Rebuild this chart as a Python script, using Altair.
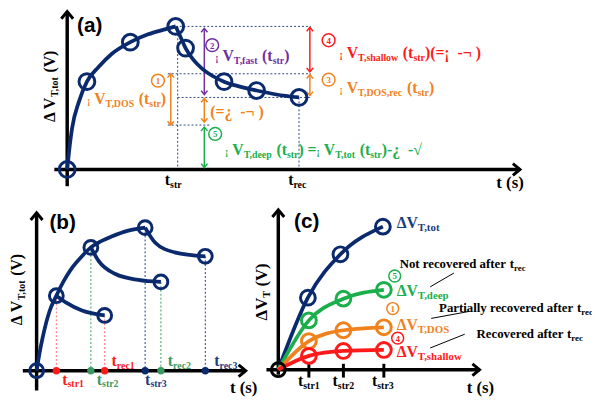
import altair as alt
import pandas as pd

NAVY = "#0B2A6E"; ORANGE = "#F0821E"; GREEN = "#1AAF4B"; RED = "#FF1A1A"
PURPLE = "#7030A0"; BLACK = "#000000"; DOT = "#2B4583"
B_RED = "#FF6B6B"; B_GREEN = "#3A9A62"; B_NAVY = "#1E3C84"; C_NAVY = "#1C3C7C"

# ---------------- panel (a) ----------------
a_rise_x = [68, 70, 73, 80, 88, 100, 113, 132, 150, 167, 178]
a_rise_y = [169, 150, 127, 100, 80, 65, 52, 40, 32, 27, 24]
a_dec_x = [178, 183, 188, 196, 205, 215, 227, 243, 260, 280, 303]
a_dec_y = [24, 35, 46, 58, 67, 74, 80, 85, 89, 93, 96]
a_circ_x = [68, 88, 132, 178, 188, 227, 260, 303]
a_circ_y = [169, 80, 40, 24, 46, 80, 89, 96]
a_dot = [  # x, y, x2, y2
    (178, 24, 315, 24), (170, 72, 315, 72), (180, 96, 315, 96), (170, 124, 212, 124),
    (180, 24, 180, 169), (303, 96, 303, 169)]
a_arrows = [  # x, top, bottom, colour
    (173, 72, 124, ORANGE), (207, 26, 93, PURPLE), (207, 97, 121, ORANGE),
    (207, 126, 167, GREEN), (314, 25, 70, RED), (314, 73, 94, ORANGE)]
a_nums = [(160, 79, "1", ORANGE), (215, 43, "2", PURPLE), (333, 38, "4", RED),
          (333, 78, "3", ORANGE), (218, 133, "5", GREEN)]

# ---------------- panel (b) ----------------
b_rise_x = [37, 40, 43, 50, 57, 64, 72, 82, 92, 102, 113, 130, 147]
b_rise_y = [373, 355, 340, 313, 297, 283, 270, 258, 248, 242, 237, 231, 228]
b_br1_x = [57, 67, 83, 106]; b_br1_y = [297, 304, 312, 317]
b_br2_x = [92, 100, 117, 140, 163]; b_br2_y = [248, 262, 275, 281, 283]
b_br3_x = [147, 157, 177, 208]; b_br3_y = [228, 243, 253, 257]
b_circ_x = [37, 57, 92, 147, 106, 163, 208]
b_circ_y = [373, 297, 248, 228, 317, 283, 257]
b_drop_x = [57, 92, 106, 147, 163, 208]
b_drop_top = [297, 248, 317, 228, 283, 257]
b_drop_col = [B_RED, B_GREEN, B_RED, B_NAVY, B_GREEN, B_NAVY]
b_dot_col = [RED, B_GREEN, RED, NAVY, B_GREEN, NAVY]

# ---------------- panel (c) ----------------
c_tot_x = [282, 312, 345, 388]; c_tot_y = [372, 299, 255, 227]
c_x = [282, 313, 348, 389]
c_deep_y = [372, 322, 300, 291]
c_dos_y = [372, 343, 332, 329]
c_sh_y = [372, 358, 353, 352]
c_ticks = [313, 348, 389]
c_nums = [(400, 277, "5", GREEN), (398, 310, "1", ORANGE), (403, 340, "4", RED)]
c_leaders = [(460, 274, 436, 288), (475, 313, 437, 320), (471, 336, 436, 350)]

# ---------------- axes ----------------
axes = [  # x, y, x2, y2
    (68, 186, 68, 9), (55, 169, 527, 169),
    (37, 393, 37, 213), (23, 373, 249, 373),
    (282, 377, 282, 210), (270, 372, 486, 372)]
up_heads = [(68, 9), (37, 213), (282, 210)]
right_heads = [(527, 169), (249, 373), (486, 372)]

# ---------------- text layout helper (Times-bold metrics) ----------------
W = {" ": 250, "(": 333, ")": 333, ",": 250, "-": 333, "=": 570, "¡": 333, "¿": 500,
     "¬": 570, "√": 549, "Δ": 612, "A": 722, "D": 722, "N": 722, "O": 778, "P": 611,
     "R": 722, "S": 556, "T": 667, "V": 722, "a": 500, "c": 444, "d": 556, "e": 444,
     "f": 333, "h": 556, "i": 278, "l": 278, "o": 500, "p": 556, "r": 444, "s": 389,
     "t": 333, "v": 500, "w": 722, "y": 500, "1": 500, "2": 500, "3": 500}


def tw(s, size):
    return sum(W.get(c, 500) for c in s) / 1000.0 * size


def rich(x0, y0, parts, color, M=16, S=10, G=10, dy=3, angle=0):
    rows, pos = [], 0.0
    for text, kind in parts:
        size = {"m": M, "s": S, "g": G}[kind]
        off = dy if kind == "s" else 0
        if text.strip():
            if angle == 0:
                rows.append(dict(x=x0 + pos, y=y0 + off, text=text, size=size, color=color, angle=0))
            else:
                rows.append(dict(x=x0 + off, y=y0 - pos, text=text, size=size, color=color, angle=270))
        pos += tw(text, size)
    return rows


def sub_label(x0, y0, main, sub, color, M=16, S=10, dy=3):
    return rich(x0, y0, [(main, "m"), (sub, "s")], color, M=M, S=S, dy=dy)


texts = []
# (a)
texts += rich(88, 103, [("¡", "g"), (" ", "m"), ("V", "m"), ("T,DOS", "s"), (" ", "m"), ("(t", "m"), ("str", "s"), (")", "m")], ORANGE)
texts += rich(218, 59, [("¡", "g"), (" ", "m"), ("V", "m"), ("T,fast", "s"), (" ", "m"), ("(t", "m"), ("str", "s"), (")", "m")], PURPLE)
texts += rich(344, 56, [("¡", "g"), (" ", "m"), ("V", "m"), ("T,shallow", "s"), (" ", "m"), ("(t", "m"), ("str", "s"), (")(=¡", "m"), ("  ", "m"), ("-¬", "m"), (" ", "m"), (")", "m")], RED)
texts += rich(344, 92, [("¡", "g"), (" ", "m"), ("V", "m"), ("T,DOS,rec", "s"), (" ", "m"), ("(t", "m"), ("str", "s"), (")", "m")], ORANGE)
texts += rich(213, 116, [("(=¿", "m"), ("  ", "m"), ("-¬", "m"), (" ", "m"), (")", "m")], ORANGE)
texts += rich(228, 154, [("¡", "g"), (" ", "m"), ("V", "m"), ("T,deep", "s"), (" ", "m"), ("(t", "m"), ("str", "s"), (")", "m"), (" ", "m"), ("=", "m"), ("¡", "g"), (" ", "m"), ("V", "m"), ("T,tot", "s"), (" ", "m"), ("(t", "m"), ("str", "s"), (")-¿", "m"), ("  ", "m"), ("-√", "m")], GREEN)
texts += rich(56, 121, [("Δ V", "m"), ("T,tot", "s"), (" ", "m"), ("(V)", "m")], BLACK, angle=270)
texts += sub_label(167, 185, "t", "str", BLACK)
texts += sub_label(292, 185, "t", "rec", BLACK)
texts += rich(503, 188, [("t (s)", "m")], BLACK, M=17)
# (b)
texts += rich(22, 327, [("Δ V", "m"), ("T,tot", "s"), (" ", "m"), ("(V)", "m")], BLACK, angle=270)
texts += sub_label(63, 387, "t", "str1", RED)
texts += sub_label(98, 387, "t", "str2", B_GREEN)
texts += sub_label(147, 387, "t", "str3", B_NAVY)
texts += sub_label(113, 368, "t", "rec1", RED)
texts += sub_label(170, 368, "t", "rec2", B_GREEN)
texts += sub_label(217, 368, "t", "rec3", B_NAVY)
texts += rich(233, 396, [("t (s)", "m")], BLACK, M=17)
# (c)
texts += rich(271, 322, [("ΔV", "m"), ("T", "s"), (" ", "m"), ("(V)", "m")], BLACK, M=17, S=11, angle=270)
texts += sub_label(402, 228, "ΔV", "T,tot", C_NAVY, S=11)
texts += sub_label(402, 297, "ΔV", "T,deep", GREEN, S=11)
texts += sub_label(402, 332, "ΔV", "T,DOS", ORANGE, S=11)
texts += sub_label(402, 359, "ΔV", "T,shallow", RED, S=11)
texts += rich(405, 269, [("Not recovered after", "m"), (" ", "m"), ("t", "m"), ("rec", "s")], BLACK, M=13, S=9, dy=2.5)
texts += rich(445, 314, [("Partially recovered after", "m"), (" ", "m"), ("t", "m"), ("rec", "s")], BLACK, M=13, S=9, dy=2.5)
texts += rich(483, 340, [("Recovered after", "m"), (" ", "m"), ("t", "m"), ("rec", "s")], BLACK, M=13, S=9, dy=2.5)
for tx, lab in zip([302, 337, 377], ["str1", "str2", "str3"]):
    texts += sub_label(tx, 389, "t", lab, BLACK)
texts += rich(473, 396, [("t (s)", "m")], BLACK, M=17)

panel_tags = pd.DataFrame(dict(x=[78, 50, 298], y=[30, 229, 228], text=["(a)", "(b)", "(c)"]))

# ---------------- build tables ----------------
lines = []
def add_line(name, xs, ys, color, w=3.8):
    for i, (xv, yv) in enumerate(zip(xs, ys)):
        lines.append(dict(id=name, x=xv, y=yv, ord=i, color=color, w=w))

add_line("a_rise", a_rise_x, a_rise_y, NAVY)
add_line("a_dec", a_dec_x, a_dec_y, NAVY)
add_line("b_rise", b_rise_x, b_rise_y, NAVY)
add_line("b1", b_br1_x, b_br1_y, NAVY)
add_line("b2", b_br2_x, b_br2_y, NAVY)
add_line("b3", b_br3_x, b_br3_y, NAVY)
add_line("c_tot", c_tot_x, c_tot_y, NAVY)
add_line("c_deep", c_x, c_deep_y, GREEN)
add_line("c_dos", c_x, c_dos_y, ORANGE)
add_line("c_sh", c_x, c_sh_y, RED)
lines_df = pd.DataFrame(lines)

circles = []
for xv, yv in zip(a_circ_x, a_circ_y):
    circles.append(dict(x=xv, y=yv, color=NAVY, s=256, sw=3))
for xv, yv in zip(b_circ_x, b_circ_y):
    circles.append(dict(x=xv, y=yv, color=NAVY, s=196, sw=3))
circles.append(dict(x=282, y=372, color=BLACK, s=196, sw=3))
for xs_, ys_, col in [(c_tot_x, c_tot_y, NAVY), (c_x, c_deep_y, GREEN), (c_x, c_dos_y, ORANGE), (c_x, c_sh_y, RED)]:
    for xv, yv in list(zip(xs_, ys_))[1:]:
        circles.append(dict(x=xv, y=yv, color=col, s=225, sw=3))
circ_df = pd.DataFrame(circles)

dotted = [dict(x=a, y=b, x2=c, y2=d, color=DOT) for a, b, c, d in a_dot]
dotted += [dict(x=xv, y=t, x2=xv, y2=373, color=col) for xv, t, col in zip(b_drop_x, b_drop_top, b_drop_col)]
dot_df = pd.DataFrame(dotted)

solid = [dict(x=a, y=b, x2=c, y2=d, color=BLACK, w=3.5) for a, b, c, d in axes]
solid += [dict(x=t, y=366, x2=t, y2=380, color=BLACK, w=3) for t in c_ticks]
solid += [dict(x=xa, y=t, x2=xa, y2=bt, color=col, w=1.5) for xa, t, bt, col in a_arrows]
solid += [dict(x=a, y=b, x2=c, y2=d, color=BLACK, w=1) for a, b, c, d in c_leaders]
solid_df = pd.DataFrame(solid)

UP = "M-1,1.2L0,0L1,1.2"
DOWN = "M-1,-1.2L0,0L1,-1.2"
RIGHT = "M-1.2,-1L0,0L-1.2,1"
heads = [dict(x=xv, y=yv, shape=UP, color=BLACK, s=144, sw=3) for xv, yv in up_heads]
heads += [dict(x=xv, y=yv, shape=RIGHT, color=BLACK, s=144, sw=3) for xv, yv in right_heads]
for xa, t, bt, col in a_arrows:
    heads.append(dict(x=xa, y=t, shape=UP, color=col, s=42, sw=1.5))
    heads.append(dict(x=xa, y=bt, shape=DOWN, color=col, s=42, sw=1.5))
heads_df = pd.DataFrame(heads)

nums = [dict(x=xv, y=yv, text=t, color=c, s=169) for xv, yv, t, c in a_nums]
nums += [dict(x=xv, y=yv, text=t, color=c, s=144) for xv, yv, t, c in c_nums]
nums_df = pd.DataFrame(nums)

bdots_df = pd.DataFrame(dict(x=b_drop_x, y=[373] * 6, color=b_dot_col))
text_df = pd.DataFrame(texts)

# ---------------- chart ----------------
xs = alt.Scale(domain=[8, 600], nice=False, zero=False)
ys = alt.Scale(domain=[8, 397], nice=False, zero=False, reverse=True)
X = alt.X("x:Q", scale=xs, axis=None)
Y = alt.Y("y:Q", scale=ys, axis=None)
COL = alt.Color("color:N", scale=None)

l_dot = alt.Chart(dot_df).mark_rule(strokeDash=[2, 2], strokeWidth=1).encode(
    x=X, y=Y, x2="x2:Q", y2="y2:Q", color=COL)
l_solid = alt.Chart(solid_df).mark_rule().encode(
    x=X, y=Y, x2="x2:Q", y2="y2:Q", color=COL, strokeWidth=alt.StrokeWidth("w:Q", scale=None))
l_heads = alt.Chart(heads_df).mark_point(filled=False, opacity=1).encode(
    x=X, y=Y, shape=alt.Shape("shape:N", scale=None), color=COL,
    size=alt.Size("s:Q", scale=None), strokeWidth=alt.StrokeWidth("sw:Q", scale=None))
l_lines = alt.Chart(lines_df).mark_line(interpolate="monotone").encode(
    x=X, y=Y, detail="id:N", order="ord:Q", color=COL,
    strokeWidth=alt.StrokeWidth("w:Q", scale=None))
l_circ = alt.Chart(circ_df).mark_point(shape="circle", filled=False, opacity=1).encode(
    x=X, y=Y, color=COL, size=alt.Size("s:Q", scale=None),
    strokeWidth=alt.StrokeWidth("sw:Q", scale=None))
l_bdots = alt.Chart(bdots_df).mark_circle(size=56, opacity=1).encode(x=X, y=Y, color=COL)
l_numc = alt.Chart(nums_df).mark_point(shape="circle", filled=False, opacity=1, strokeWidth=1.5).encode(
    x=X, y=Y, color=COL, size=alt.Size("s:Q", scale=None))
l_numt = alt.Chart(nums_df).mark_text(font="Liberation Serif", fontWeight="bold", fontSize=9,
                                      align="center", baseline="middle", dy=0.5).encode(
    x=X, y=Y, text="text:N", color=COL)
l_text = alt.Chart(text_df).mark_text(font="Liberation Serif", fontWeight="bold",
                                      align="left", baseline="alphabetic").encode(
    x=X, y=Y, text="text:N", color=COL, size=alt.Size("size:Q", scale=None),
    angle=alt.Angle("angle:Q", scale=None))
l_tags = alt.Chart(panel_tags).mark_text(font="Liberation Sans", fontWeight="bold", fontSize=21,
                                         align="left", baseline="alphabetic", color=BLACK).encode(
    x=X, y=Y, text="text:N")

chart = alt.layer(l_dot, l_solid, l_heads, l_lines, l_circ, l_bdots, l_numc, l_numt, l_text, l_tags).properties(
    width=592, height=389, padding=0, autosize=alt.AutoSizeParams(type="none"),
    background="white").configure_view(stroke=None)

chart.save("out.html", embed_options={"renderer": "svg", "actions": False})
